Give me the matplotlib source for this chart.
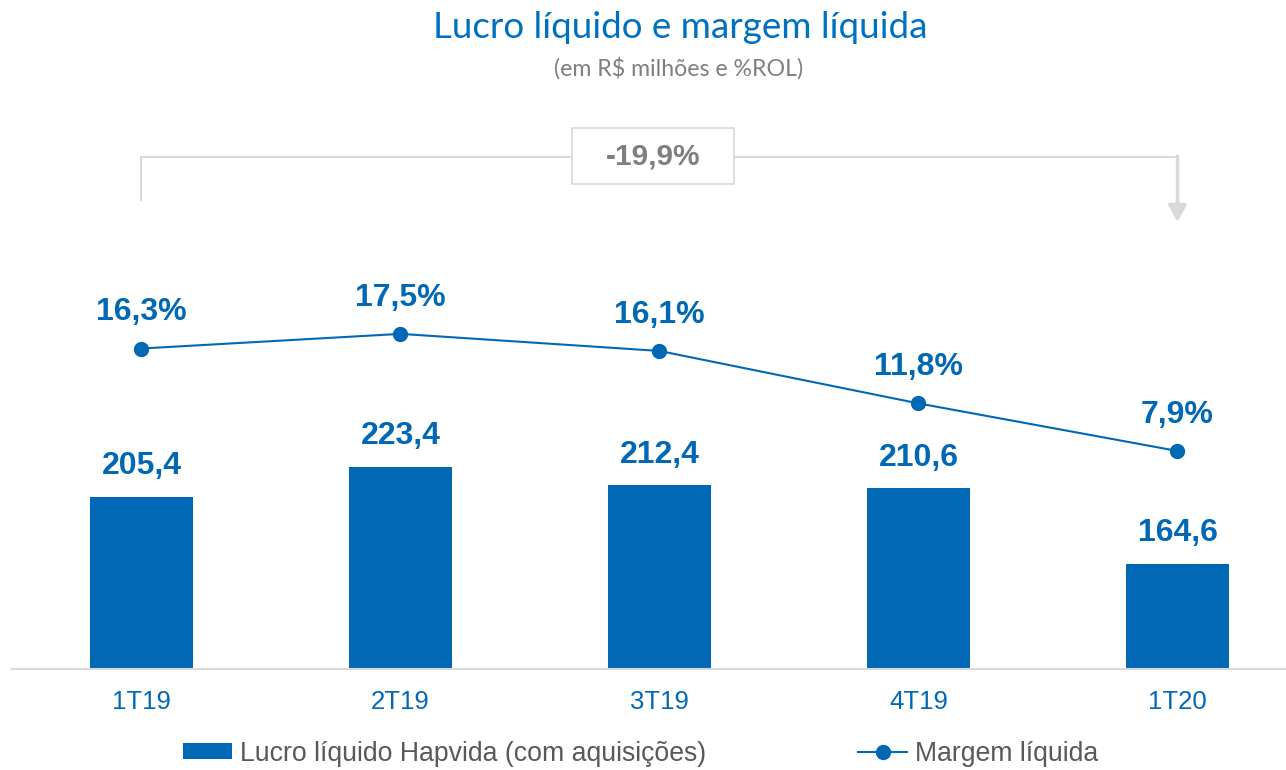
import matplotlib.pyplot as plt
from matplotlib.patches import Rectangle, Patch
from matplotlib.lines import Line2D

# Data
quarters = ['1T19', '2T19', '3T19', '4T19', '1T20']
lucro = [205.4, 223.4, 212.4, 210.6, 164.6]
margem = [16.3, 17.5, 16.1, 11.8, 7.9]
variacao = '-19,9%'

blue = '#0068B5'
gray_text = '#595959'
light_gray = '#D9D9D9'
font = 'Liberation Sans'

fig = plt.figure(figsize=(12.86, 7.7), dpi=100)
ax = fig.add_axes([12 / 1286, 101 / 770, 1274 / 1286, 549 / 770])
ax2 = ax.twinx()

x = list(range(len(quarters)))

# Bars
ax.bar(x, lucro, width=0.4, color=blue, zorder=2)
for xi, v in zip(x, lucro):
    ax.annotate(f'{v:.1f}'.replace('.', ','), (xi, v), xytext=(0, 22),
                textcoords='offset points', ha='center', va='center',
                fontsize=23, fontweight='bold', color=blue, family=font)

ax.set_xlim(-0.5, 4.419)
ax.set_ylim(101, 433.7)

# Margin line
ax2.plot(x, margem, color=blue, lw=1.5, marker='o', markersize=10, zorder=3)
for xi, v in zip(x, margem):
    ax2.annotate(f'{v:.1f}%'.replace('.', ','), (xi, v), xytext=(0, 26),
                 textcoords='offset points', ha='center', va='center',
                 fontsize=23, fontweight='bold', color=blue, family=font)
ax2.set_ylim(-9.97, 35.03)

# Axis styling
for a in (ax, ax2):
    for s in ['top', 'right', 'left']:
        a.spines[s].set_visible(False)
    a.set_yticks([])
ax2.spines['bottom'].set_visible(False)
ax.spines['bottom'].set_color(light_gray)
ax.spines['bottom'].set_linewidth(1.5)
ax.set_xticks(x)
ax.set_xticklabels(quarters, fontsize=18.5, color=blue, family=font)
ax.tick_params(axis='x', length=0, pad=15)

# Bracket with variation
y_br = 411.3
ax.plot([0, 0, 1.662], [385.2, y_br, y_br], color=light_gray, lw=1.5, zorder=1)
ax.plot([2.288, 4], [y_br, y_br], color=light_gray, lw=1.5, zorder=1)
ax.annotate('', xy=(4, 371.9), xytext=(4, y_br + 0.5),
            arrowprops=dict(arrowstyle='-|>,head_width=0.55,head_length=1.0',
                            color=light_gray, lw=2.5, shrinkA=0, shrinkB=0))
ax.add_patch(Rectangle((1.662, 394.9), 0.626, 34.0, facecolor='white',
                       edgecolor=light_gray, lw=1.2, zorder=2))
ax.text(1.975, 411.8, variacao, ha='center', va='center', fontsize=21.5,
        fontweight='bold', color='#7F7F7F', family=font, zorder=3)

# Titles
fig.text(0.529, 1 - 27 / 770, 'Lucro líquido e margem líquida', ha='center',
         va='center', fontsize=26.5, color='#0070C0', family='Lato')
fig.text(0.528, 1 - 68 / 770, '(em R$ milhões e %ROL)', ha='center',
         va='center', fontsize=16.7, color='#7F7F7F', family='Lato')

# Legend
handles = [Patch(facecolor=blue, edgecolor='none'),
           Line2D([0], [0], color=blue, lw=1.5, marker='o', markersize=10)]
labels = ['Lucro líquido Hapvida (com aquisições)', 'Margem líquida']
leg = fig.legend(handles, labels, loc='center', bbox_to_anchor=(0.498, 0.021),
                 ncol=2, frameon=False, handlelength=1.85, handleheight=0.55,
                 handletextpad=0.28, columnspacing=5.7,
                 prop={'family': font, 'size': 19.2})
for t in leg.get_texts():
    t.set_color(gray_text)

fig.savefig('out.png', dpi=100)
